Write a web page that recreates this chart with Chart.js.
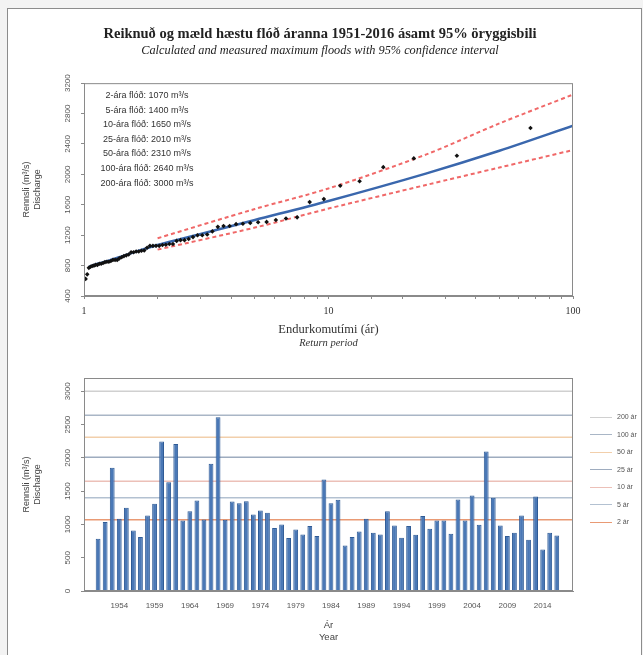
<!DOCTYPE html>
<html>
<head>
<meta charset="utf-8">
<script src="https://cdn.jsdelivr.net/npm/chart.js@4.4.0/dist/chart.umd.min.js"></script>
<style>
  body { margin: 0; width: 643px; height: 655px; overflow: hidden; position: relative; background: #f3f3f3; font-family: "Liberation Sans", Arial, sans-serif; }
  .panel { position: absolute; left: 7px; top: 8px; width: 633px; height: 660px; background: #fff; border: 1px solid #8c8c8c; }
  canvas { position: absolute; left: 0; }
  #topChart { top: 0; }
  #barChart { top: 355px; }
  .levels { position: absolute; left: 87px; top: 88px; width: 120px; font-size: 9px; color: #333; text-align: center; line-height: 14.6px; }
  .legend { position: absolute; left: 590px; top: 409px; font-size: 7px; color: #555; }
  .legend div { height: 17.5px; line-height: 16px; white-space: nowrap; }
  .legend .swatch { display: inline-block; width: 22px; height: 0; border-top: 1.5px solid; vertical-align: middle; margin-right: 5px; }
</style>
</head>
<body>
<div class="panel"></div>
<canvas id="topChart" width="643" height="355"></canvas>
<canvas id="barChart" width="643" height="300"></canvas>
<div class="levels" id="levels"></div>
<div class="legend" id="legend"></div>
<script>
"use strict";

// annual maximum floods 1951-2016 (m3/s)
const years = [
  1951, 1952, 1953, 1954, 1955, 1956, 1957, 1958, 1959, 1960,
  1961, 1962, 1963, 1964, 1965, 1966, 1967, 1968, 1969, 1970,
  1971, 1972, 1973, 1974, 1975, 1976, 1977, 1978, 1979, 1980,
  1981, 1982, 1983, 1984, 1985, 1986, 1987, 1988, 1989, 1990,
  1991, 1992, 1993, 1994, 1995, 1996, 1997, 1998, 1999, 2000,
  2001, 2002, 2003, 2004, 2005, 2006, 2007, 2008, 2009, 2010,
  2011, 2012, 2013, 2014, 2015, 2016,
];
const annualMax = [
  785, 1035, 1850, 1085, 1250, 910, 810, 1135, 1310, 2245,
  1635, 2210, 1060, 1200, 1360, 1075, 1910, 2610, 1070, 1345,
  1320, 1350, 1150, 1210, 1175, 945, 1000, 795, 925, 850,
  975, 825, 1675, 1320, 1370, 685, 810, 895, 1085, 875,
  850, 1200, 985, 800, 975, 845, 1125, 935, 1060, 1060,
  860, 1375, 1060, 1435, 995, 2095, 1400, 985, 825, 875,
  1135, 770, 1420, 625, 875, 835,
];
const tickYears = [1954, 1959, 1964, 1969, 1974, 1979, 1984, 1989, 1994, 1999, 2004, 2009, 2014];
const flowTicks = [0, 500, 1000, 1500, 2000, 2500, 3000];

// return levels (text box + horizontal lines)
const returnPeriods = [2, 5, 10, 25, 50, 100, 200];
const returnLevels = [1070, 1400, 1650, 2010, 2310, 2640, 3000];
const levelColors = ["#e99a74", "#b3c1d1", "#ecc0b8", "#9eacbf", "#f2cfab", "#a9b6c6", "#d0d0d0"];

// fitted curve and 95% confidence interval
const fitPeriods = [1.05, 1.1, 1.25, 1.5, 2, 3, 5, 10, 25, 50, 100];
const fitFlows = [785, 810, 860, 945, 1070, 1215, 1400, 1650, 2010, 2310, 2640];
const boundPeriods = [2, 5, 10, 25, 50, 100];
const upperBound = [1160, 1545, 1815, 2260, 2670, 3050];
const lowerBound = [1010, 1300, 1550, 1860, 2090, 2320];

const toXY = (xs, ys) => xs.map((x, i) => ({ x: x, y: ys[i] }));

// measured floods at their plotting positions (n+1)/rank
const ranked = annualMax.slice().sort((a, b) => b - a);
const observedPoints = ranked.map((q, i) => ({ x: (ranked.length + 1) / (i + 1), y: q }));

const axisGray = "#8a8a8a";
const frame = {
  id: "frame",
  afterDraw(chart) {
    const { ctx, chartArea: a } = chart;
    ctx.save();
    ctx.strokeStyle = axisGray;
    ctx.lineWidth = 1;
    ctx.strokeRect(a.left + 0.5, a.top + 0.5, a.width - 1, a.height - 1);
    ctx.restore();
  },
};

const yTitle = () => ({
  display: true,
  text: ["Rennsli (m³/s)", "Discharge"],
  color: "#444",
  font: { family: "Liberation Sans", size: 9 },
  padding: { top: 3.5, bottom: 0 },
});

const yTicks = () => ({
  autoSkip: false,
  minRotation: 90,
  maxRotation: 90,
  crossAlign: "center",
  padding: 4,
  color: "#555",
  font: { family: "Liberation Sans", size: 8 },
  callback: (v) => String(v),
});

// empty axis on the right, keeps the title centred on the page
const spacerAxis = {
  type: "linear",
  position: "right",
  afterFit: (s) => { s.width = 49; },
  grid: { display: false },
  border: { display: false },
  ticks: { display: false },
};

new Chart(document.getElementById("topChart"), {
  type: "scatter",
  data: {
    datasets: [
      {
        label: "Mælt",
        data: observedPoints,
        pointStyle: "rectRot",
        pointRadius: 2.3,
        backgroundColor: "#111",
        borderColor: "#111",
        borderWidth: 0,
      },
      {
        type: "line",
        label: "Reiknað",
        data: toXY(fitPeriods, fitFlows),
        borderColor: "#3a67ad",
        borderWidth: 2.5,
        pointRadius: 0,
        tension: 0.3,
      },
      {
        type: "line",
        label: "Efri mörk",
        data: toXY(boundPeriods, upperBound),
        borderColor: "#f06868",
        borderWidth: 2,
        borderDash: [4, 3],
        pointRadius: 0,
        tension: 0.3,
      },
      {
        type: "line",
        label: "Neðri mörk",
        data: toXY(boundPeriods, lowerBound),
        borderColor: "#f06868",
        borderWidth: 2,
        borderDash: [4, 3],
        pointRadius: 0,
        tension: 0.3,
      },
    ],
  },
  options: {
    responsive: false,
    animation: false,
    layout: { padding: { left: 18, right: 21, top: 0, bottom: 4 } },
    plugins: {
      legend: { display: false },
      tooltip: { enabled: false },
      title: {
        display: true,
        text: "Reiknuð og mæld hæstu flóð áranna 1951-2016 ásamt 95% öryggisbili",
        color: "#222",
        font: { family: "Liberation Serif", size: 14.5, weight: "bold" },
        padding: { top: 26, bottom: 0 },
      },
      subtitle: {
        display: true,
        text: "Calculated and measured maximum floods with 95% confidence interval",
        color: "#222",
        font: { family: "Liberation Serif", size: 12.3, style: "italic" },
        padding: { top: 0, bottom: 25 },
      },
    },
    scales: {
      x: {
        type: "logarithmic",
        min: 1,
        max: 100,
        afterFit: (s) => { s.height = 41; },
        grid: { drawOnChartArea: false, tickLength: 3, color: axisGray },
        border: { color: axisGray },
        ticks: {
          autoSkip: false,
          maxRotation: 0,
          padding: 6,
          color: "#333",
          font: { family: "Liberation Serif", size: 10 },
          callback: (v) => ([1, 10, 100].includes(v) ? String(v) : ""),
        },
        title: {
          display: true,
          text: "Endurkomutími (ár)",
          color: "#333",
          font: { family: "Liberation Serif", size: 12.5 },
          padding: { top: 0, bottom: 0 },
        },
      },
      x2: {
        type: "linear",
        position: "bottom",
        afterFit: (s) => { s.height = 14; },
        grid: { display: false },
        border: { display: false },
        ticks: { display: false },
        title: {
          display: true,
          text: "Return period",
          color: "#333",
          font: { family: "Liberation Serif", size: 10.5, style: "italic" },
          padding: { top: 0, bottom: 1.5 },
        },
      },
      y: {
        min: 400,
        max: 3200,
        afterFit: (s) => { s.width = 66; },
        grid: { drawOnChartArea: false, tickLength: 3, color: axisGray },
        border: { color: axisGray },
        ticks: Object.assign(yTicks(), { stepSize: 400 }),
        title: yTitle(),
      },
      yr: spacerAxis,
    },
  },
  plugins: [frame],
});

const levelLines = returnLevels
  .map((q, i) => ({
    type: "line",
    label: returnPeriods[i] + " ár",
    data: [{ x: 1949, y: q }, { x: 2018.3, y: q }],
    borderColor: levelColors[i],
    borderWidth: 1.5,
    pointRadius: 0,
  }))
  .reverse();

new Chart(document.getElementById("barChart"), {
  type: "bar",
  data: {
    datasets: [
      {
        label: "Rennsli",
        data: toXY(years, annualMax),
        backgroundColor: "#4a78b6",
        borderColor: "#2f5b96",
        borderWidth: 1,
        barPercentage: 0.68,
        categoryPercentage: 1,
      },
      ...levelLines,
    ],
  },
  options: {
    responsive: false,
    animation: false,
    layout: { padding: { left: 18, right: 70, top: 23, bottom: 0 } },
    plugins: { legend: { display: false }, tooltip: { enabled: false } },
    scales: {
      x: {
        type: "linear",
        min: 1949,
        max: 2018.3,
        offset: false,
        afterFit: (s) => { s.height = 64; },
        afterBuildTicks: (s) => { s.ticks = tickYears.map((v) => ({ value: v })); },
        grid: { display: false },
        border: { color: axisGray },
        ticks: {
          autoSkip: false,
          maxRotation: 0,
          padding: 2,
          color: "#555",
          font: { family: "Liberation Sans", size: 8 },
          callback: (v) => String(v),
        },
        title: {
          display: true,
          text: ["Ár", "Year"],
          color: "#444",
          font: { family: "Liberation Sans", size: 9.5, lineHeight: 1.25 },
          padding: { top: 0, bottom: 12 },
        },
      },
      y: {
        min: 0,
        max: 3200,
        afterFit: (s) => { s.width = 66; },
        afterBuildTicks: (s) => { s.ticks = flowTicks.map((v) => ({ value: v })); },
        grid: { drawOnChartArea: false, tickLength: 3, color: axisGray },
        border: { color: axisGray },
        ticks: yTicks(),
        title: yTitle(),
      },
    },
  },
  plugins: [frame],
});

// text box with return levels
document.getElementById("levels").innerHTML = returnPeriods
  .map((t, i) => `<div>${t}-ára flóð: ${returnLevels[i]} m³/s</div>`)
  .join("");

// legend for the return level lines, largest first
document.getElementById("legend").innerHTML = returnPeriods
  .map((t, i) => `<div><span class="swatch" style="border-color:${levelColors[i]}"></span>${t} ár</div>`)
  .reverse()
  .join("");
</script>
</body>
</html>
